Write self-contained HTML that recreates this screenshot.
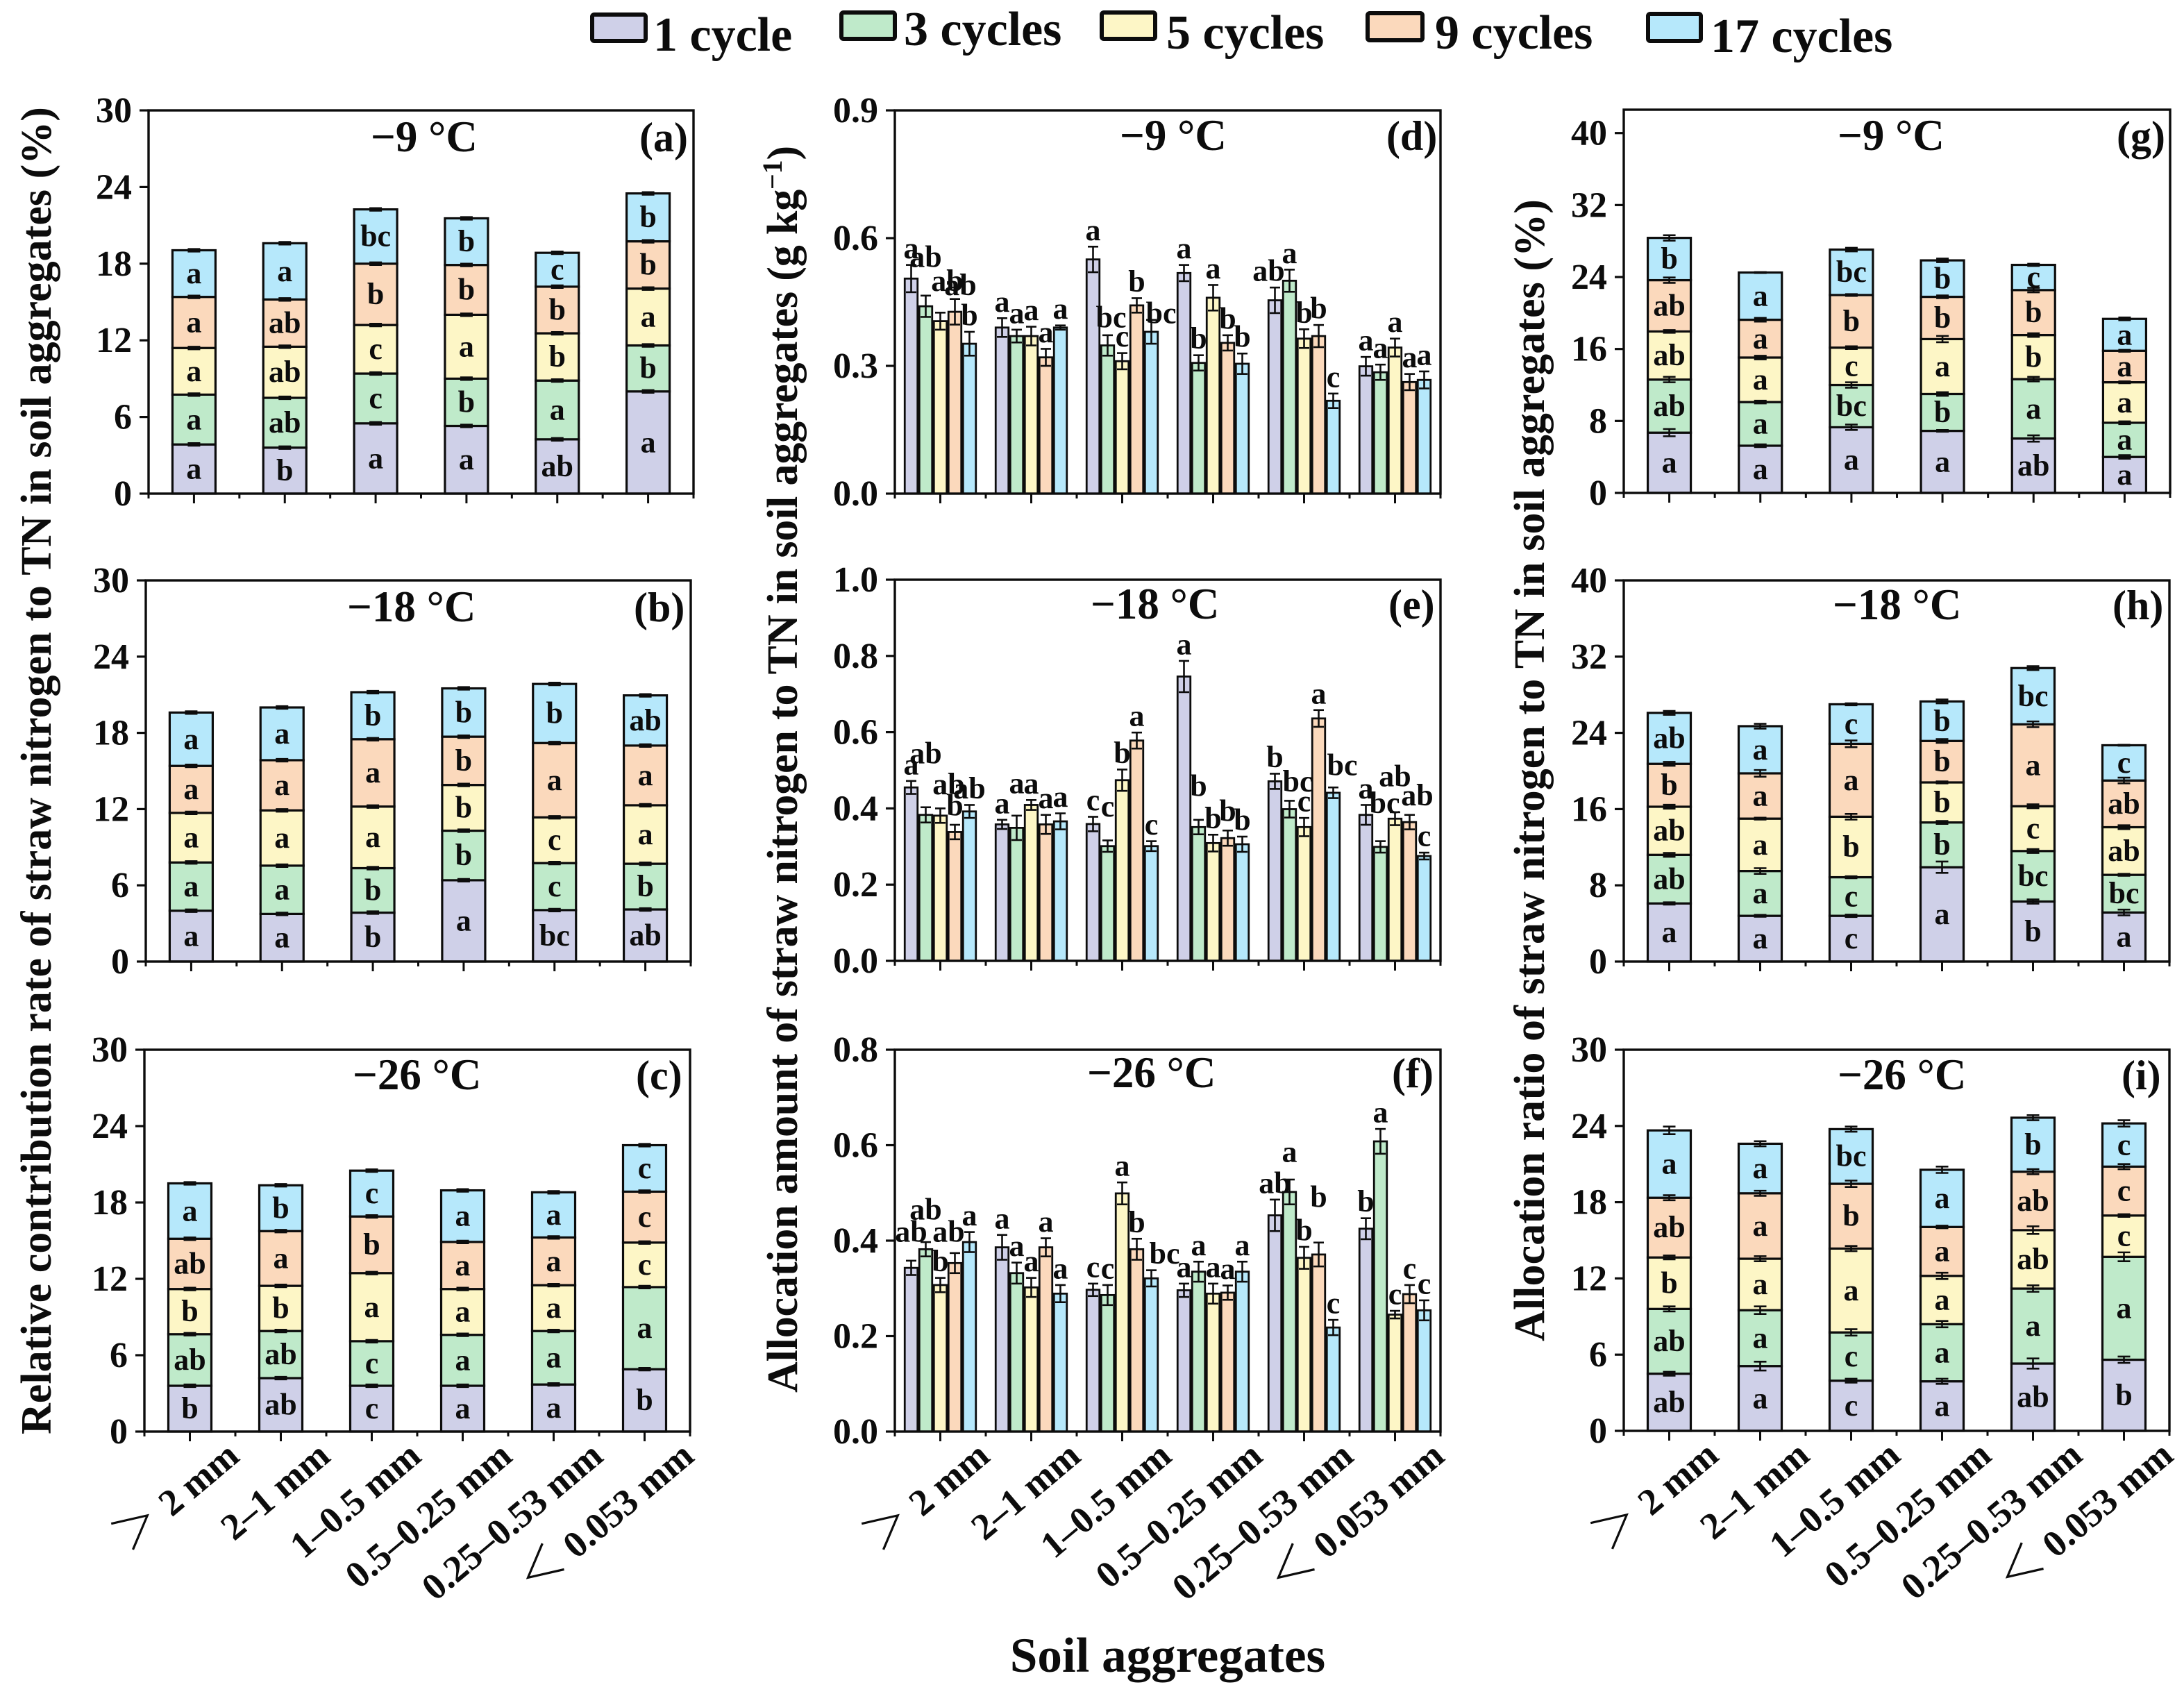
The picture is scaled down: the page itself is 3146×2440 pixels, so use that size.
<!DOCTYPE html>
<html lang="en">
<head>
<meta charset="utf-8">
<title>Straw nitrogen in soil aggregates under freeze-thaw cycles</title>
<style>
html,body{margin:0;padding:0;background:#fff;}
svg{display:block;}
text{font-family:"Liberation Serif","Noto Serif CJK SC",serif;font-weight:bold;fill:#0c0c0c;}
</style>
</head>
<body>
<svg id="chart" xmlns="http://www.w3.org/2000/svg" width="3146" height="2440" viewBox="0 0 3146 2440">
  <rect x="0" y="0" width="3146" height="2440" fill="#ffffff"/>
  <g>
    <g>
      <rect x="853" y="21" width="77" height="38" rx="3" fill="#cfd0e8" stroke="#0c0c0c" stroke-width="6"/>
      <text x="941" y="73" font-size="70">1 cycle</text>
    </g>
    <g>
      <rect x="1212" y="18" width="77" height="38" rx="3" fill="#bfeaca" stroke="#0c0c0c" stroke-width="6"/>
      <text x="1302" y="65" font-size="70">3 cycles</text>
    </g>
    <g>
      <rect x="1587" y="18" width="77" height="38" rx="3" fill="#fdf6c6" stroke="#0c0c0c" stroke-width="6"/>
      <text x="1680" y="70" font-size="70">5 cycles</text>
    </g>
    <g>
      <rect x="1970" y="19" width="79" height="39" rx="3" fill="#fbd9bc" stroke="#0c0c0c" stroke-width="6"/>
      <text x="2067" y="70" font-size="70">9 cycles</text>
    </g>
    <g>
      <rect x="2374" y="20" width="76" height="39" rx="3" fill="#b6e8fb" stroke="#0c0c0c" stroke-width="6"/>
      <text x="2464" y="75" font-size="70">17 cycles</text>
    </g>
  </g>
  <text class="fit" data-fit="1912" transform="translate(73,2066) rotate(-90)" font-size="62">Relative contribution rate of straw nitrogen to TN in soil aggregates (%)</text>
  <text class="fit" data-fit="1796" transform="translate(1148,2006) rotate(-90)" font-size="62">Allocation amount of straw nitrogen to TN in soil aggregates (g kg<tspan dy="-22" font-size="40">−1</tspan><tspan dy="22">)</tspan></text>
  <text class="fit" data-fit="1645" transform="translate(2224,1932) rotate(-90)" font-size="62">Allocation ratio of straw nitrogen to TN in soil aggregates (%)</text>
  <text x="1682" y="2408" font-size="71" text-anchor="middle">Soil aggregates</text>
  <g id="panels"></g>
</svg>
<script>
// Shared categories, series and colours
const categories = ['＞ 2 mm', '2–1 mm', '1–0.5 mm', '0.5–0.25 mm', '0.25–0.53 mm', '＜ 0.053 mm'];
const seriesNames = ['1 cycle', '3 cycles', '5 cycles', '9 cycles', '17 cycles'];
const seriesColors = ['#cfd0e8', '#bfeaca', '#fdf6c6', '#fbd9bc', '#b6e8fb'];

// Tick labels
const ticks30 = ['0', '6', '12', '18', '24', '30'];
const ticksD = ['0.0', '0.3', '0.6', '0.9'];
const ticksE = ['0.0', '0.2', '0.4', '0.6', '0.8', '1.0'];
const ticksF = ['0.0', '0.2', '0.4', '0.6', '0.8'];
const ticks40 = ['0', '8', '16', '24', '32', '40'];

// Panel (a): rows are series, columns are categories
const aValues = [[3.85,3.6,5.5,5.3,4.25,8],[3.9,3.9,3.9,3.7,4.6,3.6],[3.65,4.0,3.8,5,3.7,4.45],[4.0,3.7,4.8,3.9,3.65,3.7],[3.65,4.4,4.25,3.65,2.65,3.75]];
const aErrors = [[.1,.1,.1,.1,.1,.1],[.1,.1,.1,.1,.1,.1],[.1,.1,.1,.1,.1,.1],[.1,.1,.1,.1,.1,.1],[.1,.1,.1,.1,.1,.1]];
const aLetters = [['a','b','a','a','ab','a'],['a','ab','c','b','a','b'],['a','ab','c','a','b','a'],['a','ab','b','b','b','b'],['a','a','bc','b','c','b']];

// Panel (b)
const bValues = [[4.0,3.75,3.85,6.4,4.05,4.1],[3.8,3.8,3.5,3.9,3.7,3.6],[3.9,4.35,4.85,3.6,3.6,4.6],[3.7,3.95,5.3,3.8,5.85,4.7],[4.2,4.15,3.7,3.8,4.65,3.95]];
const bErrors = [[.1,.1,.1,.1,.1,.1],[.1,.1,.1,.1,.1,.1],[.1,.1,.1,.1,.1,.1],[.1,.1,.1,.1,.1,.1],[.1,.1,.1,.1,.1,.1]];
const bLetters = [['a','a','b','a','bc','ab'],['a','a','b','b','c','b'],['a','a','a','b','c','a'],['a','a','a','b','a','a'],['a','a','b','b','b','ab']];

// Panel (c)
const cValues = [[3.6,4.2,3.6,3.6,3.7,4.9],[4.05,3.7,3.5,4.0,4.2,6.45],[3.55,3.55,5.35,3.6,3.6,3.5],[3.95,4.3,4.45,3.7,3.75,4.0],[4.35,3.6,3.6,4.05,3.55,3.65]];
const cErrors = [[.1,.1,.1,.1,.1,.1],[.1,.1,.1,.1,.1,.1],[.1,.1,.1,.1,.1,.1],[.1,.1,.1,.1,.1,.1],[.1,.1,.1,.1,.1,.1]];
const cLetters = [['b','ab','c','a','a','b'],['ab','ab','c','a','a','a'],['b','b','a','a','a','c'],['ab','a','b','a','a','c'],['a','b','c','a','a','c']];

// Panel (g)
const gValues = [[6.7,5.25,7.3,6.9,6.05,4],[5.9,4.85,4.7,4.1,6.6,3.8],[5.35,4.95,4.15,6.1,4.9,4.5],[5.7,4.2,5.85,4.7,5,3.5],[4.7,5.25,5.05,4.05,2.8,3.55]];
const gErrors = [[.4,.15,.3,.1,.35,.2],[.3,.15,.3,.2,.25,.15],[.15,.2,.15,.35,.2,.1],[.3,.2,.1,.15,.25,.1],[.3,.05,.2,.2,.12,.15]];
const gLetters = [['a','a','a','a','ab','a'],['ab','a','bc','b','a','a'],['ab','a','c','a','b','a'],['ab','a','b','b','b','a'],['b','a','bc','b','c','a']];

// Panel (h)
const hValues = [[6.1,4.8,4.8,9.9,6.3,5.15],[5.1,4.7,4.05,4.7,5.3,3.95],[5.05,5.5,6.35,4.2,4.7,5],[4.5,4.75,7.65,4.35,8.6,4.9],[5.35,4.95,4.15,4.15,5.9,3.7]];
const hErrors = [[.12,.1,.12,.6,.22,.3],[.2,.3,.1,.15,.2,.1],[.2,.1,.3,.1,.2,.2],[.2,.35,.35,.2,.3,.3],[.2,.25,.1,.2,.2,.05]];
const hLetters = [['a','a','c','a','b','a'],['ab','a','c','b','bc','bc'],['ab','a','b','b','c','ab'],['b','a','a','b','a','ab'],['ab','a','c','b','bc','c']];

// Panel (i)
const iValues = [[4.5,5.1,3.95,3.9,5.3,5.6],[5.1,4.4,3.8,4.5,5.9,8.1],[4.05,4.05,6.6,3.8,4.6,3.25],[4.7,5.15,5.1,3.85,4.6,3.85],[5.3,3.9,4.3,4.5,4.25,3.4]];
const iErrors = [[.15,.35,.15,.2,.4,.25],[.2,.3,.25,.25,.25,.35],[.15,.2,.2,.25,.3,.1],[.2,.2,.25,.1,.2,.2],[.3,.2,.2,.25,.2,.25]];
const iLetters = [['ab','a','c','a','ab','b'],['ab','a','c','a','a','a'],['b','a','a','a','ab','c'],['ab','a','b','a','ab','c'],['a','a','bc','a','b','c']];

// Panel (d): rows are categories, columns are series
const dValues = [[.505,.44,.405,.427,.352],[.39,.37,.37,.32,.39],[.55,.348,.311,.442,.38],[.518,.307,.46,.354,.305],[.454,.50,.364,.37,.218],[.299,.285,.343,.262,.267]];
const dErrors = [[.032,.025,.02,.03,.028],[.022,.015,.022,.02,.005],[.03,.024,.019,.017,.028],[.019,.018,.03,.018,.024],[.03,.026,.022,.026,.017],[.022,.018,.021,.019,.02]];
const dLetters = [['a','ab','ab','ab','b'],['a','a','a','a','a'],['a','bc','c','b','bc'],['a','b','a','b','b'],['ab','a','b','b','c'],['a','a','a','a','a']];

// Panel (e)
const eValues = [[.455,.383,.381,.338,.392],[.358,.349,.409,.358,.366],[.359,.301,.474,.578,.301],[.746,.351,.309,.322,.306],[.471,.398,.351,.636,.441],[.383,.299,.373,.364,.275]];
const eErrors = [[.017,.02,.019,.019,.017],[.012,.032,.013,.025,.021],[.019,.015,.028,.021,.013],[.041,.019,.022,.02,.02],[.02,.022,.024,.022,.014],[.026,.015,.017,.019,.009]];
const eLetters = [['a','ab','ab','b','ab'],['a','a','a','a','a'],['c','c','b','a','c'],['a','b','b','b','b'],['b','bc','c','a','bc'],['a','bc','ab','ab','c']];

// Panel (f)
const fValues = [[.343,.382,.307,.353,.397],[.386,.332,.302,.386,.289],[.297,.286,.499,.382,.321],[.296,.335,.289,.291,.335],[.453,.502,.364,.371,.218],[.425,.608,.245,.288,.254]];
const fErrors = [[.015,.015,.015,.021,.021],[.026,.022,.02,.019,.018],[.013,.021,.023,.022,.017],[.014,.021,.021,.015,.021],[.033,.026,.023,.025,.016],[.022,.026,.008,.019,.021]];
const fLetters = [['ab','ab','b','ab','a'],['a','a','a','a','a'],['c','c','a','b','bc'],['a','a','a','a','a'],['ab','a','b','b','c'],['b','a','c','c','c']];

// Label offsets that keep crowded letters readable, keyed "category-series": [dx, dy]
const dLabelNudges = {'0-1':[0,-32],'0-2':[10,-22],'0-3':[8,4],'2-1':[5,-2],'2-4':[14,14],'4-0':[-9,0]};
const eLabelNudges = {'0-1':[0,-54],'0-2':[12,-11],'0-3':[0,-4],'1-1':[0,-23],'2-1':[0,-25],'3-1':[0,-25],'3-3':[0,-4],'4-1':[12,-4],'4-4':[13,-8],'5-1':[6,-31],'5-2':[0,-28],'5-3':[11,-4]};
const fLabelNudges = {'0-0':[0,-18],'0-1':[0,-23],'0-3':[-9,-7],'2-4':[19,0],'4-1':[0,-16],'4-3':[0,-42]};

const panels = [
  {id:'a',kind:'stack',values:aValues,errors:aErrors,letters:aLetters,ticks:ticks30,yMax:30,box:[214,999,159,711],temp:'−9 °C',tempX:534,tagX:921,base:218,xLabels:false},
  {id:'b',kind:'stack',values:bValues,errors:bErrors,letters:bLetters,ticks:ticks30,yMax:30,box:[210,995,836,1385],temp:'−18 °C',tempX:500,tagX:913,base:895,xLabels:false},
  {id:'c',kind:'stack',values:cValues,errors:cErrors,letters:cLetters,ticks:ticks30,yMax:30,box:[208,994,1512,2062],temp:'−26 °C',tempX:508,tagX:916,base:1569,xLabels:true},
  {id:'d',kind:'group',values:dValues,errors:dErrors,letters:dLetters,nudges:dLabelNudges,ticks:ticksD,yMax:.9,box:[1289,2075,159,711],temp:'−9 °C',tempX:1613,tagX:1997,base:216,xLabels:false},
  {id:'e',kind:'group',values:eValues,errors:eErrors,letters:eLetters,nudges:eLabelNudges,ticks:ticksE,yMax:1,box:[1289,2075,835,1384],temp:'−18 °C',tempX:1571,tagX:2000,base:891,xLabels:false},
  {id:'f',kind:'group',values:fValues,errors:fErrors,letters:fLetters,nudges:fLabelNudges,ticks:ticksF,yMax:.8,box:[1289,2075,1512,2062],temp:'−26 °C',tempX:1566,tagX:2005,base:1566,xLabels:true},
  {id:'g',kind:'stack',values:gValues,errors:gErrors,letters:gLetters,ticks:ticks40,yMax:42.6,box:[2339,3126,158,710],temp:'−9 °C',tempX:2647,tagX:3049,base:216,xLabels:false},
  {id:'h',kind:'stack',values:hValues,errors:hErrors,letters:hLetters,ticks:ticks40,yMax:40,box:[2339,3125,836,1385],temp:'−18 °C',tempX:2640,tagX:3043,base:892,xLabels:false},
  {id:'i',kind:'stack',values:iValues,errors:iErrors,letters:iLetters,ticks:ticks30,yMax:30,box:[2339,3125,1512,2061],temp:'−26 °C',tempX:2647,tagX:3056,base:1569,xLabels:true}
];

const NS = 'http://www.w3.org/2000/svg';
const INK = '#0c0c0c';
function make(parent, tag, attrs, content) {
  const el = document.createElementNS(NS, tag);
  for (const key in attrs) el.setAttribute(key, attrs[key]);
  if (content !== undefined) el.textContent = content;
  parent.appendChild(el);
  return el;
}
function drawError(group, cx, yFn, value, err, capWidth, name) {
  const g = make(group, 'g', {stroke: INK, 'stroke-width': 2.6, fill: 'none'});
  
  
  const hi = yFn(value + err), lo = yFn(value - err);
  make(g, 'line', {x1: cx, x2: cx, y1: hi, y2: lo});
  make(g, 'line', {x1: cx - capWidth / 2, x2: cx + capWidth / 2, y1: hi, y2: hi});
  make(g, 'line', {x1: cx - capWidth / 2, x2: cx + capWidth / 2, y1: lo, y2: lo});
}
const root = document.getElementById('panels');
panels.forEach(function (p) {
  const left = p.box[0], right = p.box[1], top = p.box[2], bottom = p.box[3];
  const yScale = function (v) { return bottom - (v / p.yMax) * (bottom - top); };
  const pitch = (right - left) / categories.length;
  const xCenter = function (i) { return left + (i + 0.5) * pitch; };

  const panel = make(root, 'g', {});
  
  

  const marks = make(panel, 'g', {});
  
  

  if (p.kind === 'stack') {
    const barWidth = 62;
    categories.forEach(function (cat, c) {
      let cum = 0;
      const segs = [];
      p.values.forEach(function (row, s) {
        const v = row[c];
        const rect = make(marks, 'rect', {x: xCenter(c) - barWidth / 2, y: yScale(cum + v), width: barWidth, height: yScale(cum) - yScale(cum + v), fill: seriesColors[s], stroke: INK, 'stroke-width': 3.2});
        
        
        segs.push({s: s, low: cum, high: cum + v});
        cum += v;
      });
      segs.forEach(function (seg) {
        drawError(marks, xCenter(c), yScale, seg.high, p.errors[seg.s][c], 18, 'error-bar-' + p.id + '-' + (c + 1) + '-series-' + (seg.s + 1));
        const label = make(marks, 'text', {x: xCenter(c), y: (yScale(seg.low) + yScale(seg.high)) / 2 + 14, 'font-size': 44, 'text-anchor': 'middle'}, p.letters[seg.s][c]);
        
        
      });
    });
  } else {
    const step = 21, barWidth = 18.5;
    p.values.forEach(function (row, c) {
      row.forEach(function (v, s) {
        const cx = xCenter(c) + (s - 2) * step;
        const rect = make(marks, 'rect', {x: cx - barWidth / 2, y: yScale(v), width: barWidth, height: bottom - yScale(v), fill: seriesColors[s], stroke: INK, 'stroke-width': 2.8});
        
        
      });
    });
    p.values.forEach(function (row, c) {
      row.forEach(function (v, s) {
        const cx = xCenter(c) + (s - 2) * step;
        drawError(marks, cx, yScale, v, p.errors[c][s], 15, 'error-bar-' + p.id + '-' + (c + 1) + '-series-' + (s + 1));
      });
    });
    p.values.forEach(function (row, c) {
      row.forEach(function (v, s) {
        const cx = xCenter(c) + (s - 2) * step;
        const n = p.nudges[c + '-' + s] || [0, 0];
        const label = make(marks, 'text', {x: cx + n[0], y: yScale(v + p.errors[c][s]) - 9.5 + n[1], 'font-size': 44, 'text-anchor': 'middle'}, p.letters[c][s]);
        
        
      });
    });
  }

  const frame = make(panel, 'rect', {x: left, y: top, width: right - left, height: bottom - top, fill: 'none', stroke: INK, 'stroke-width': 3.4});
  
  

  const yAxis = make(panel, 'g', {});
  
  
  p.ticks.forEach(function (t) {
    const y = yScale(parseFloat(t));
    make(yAxis, 'line', {x1: left - 13, x2: left, y1: y, y2: y, stroke: INK, 'stroke-width': 3.2});
    const label = make(yAxis, 'text', {x: left - 24, y: y + 17, 'font-size': 52, 'text-anchor': 'end'}, t);
    
    
  });

  const xAxis = make(panel, 'g', {});
  
  
  for (let i = 0; i <= categories.length; i++) {
    const xb = left + i * pitch;
    make(xAxis, 'line', {x1: xb, x2: xb, y1: bottom, y2: bottom + 7, stroke: INK, 'stroke-width': 3});
  }
  categories.forEach(function (cat, c) {
    make(xAxis, 'line', {x1: xCenter(c), x2: xCenter(c), y1: bottom, y2: bottom + 14, stroke: INK, 'stroke-width': 3});
    if (p.xLabels) {
      const ax = xCenter(c) + 74, ay = bottom + 40;
      const label = make(xAxis, 'text', {x: 0, y: 0, 'font-size': 54, 'text-anchor': 'end', transform: 'translate(' + ax + ',' + ay + ') rotate(-40)'});
      
      
      if (cat.charAt(0) === '＞' || cat.charAt(0) === '＜') {
        make(label, 'tspan', {'font-size': 68}, cat.charAt(0));
        make(label, 'tspan', {}, cat.slice(1));
      } else {
        label.textContent = cat;
      }
    }
  });

  const temp = make(panel, 'text', {x: p.tempX, y: p.base, 'font-size': 63}, p.temp);
  
  
  const tag = make(panel, 'text', {x: p.tagX, y: p.base, 'font-size': 60}, '(' + p.id + ')');
  
  
});

// Fit the long rotated axis titles to their measured spans
document.querySelectorAll('text.fit').forEach(function (t) {
  const target = parseFloat(t.getAttribute('data-fit'));
  const n = t.getNumberOfChars();
  const natural = t.getComputedTextLength();
  t.style.letterSpacing = ((target - natural) / n) + 'px';
});
</script>
</body>
</html>
